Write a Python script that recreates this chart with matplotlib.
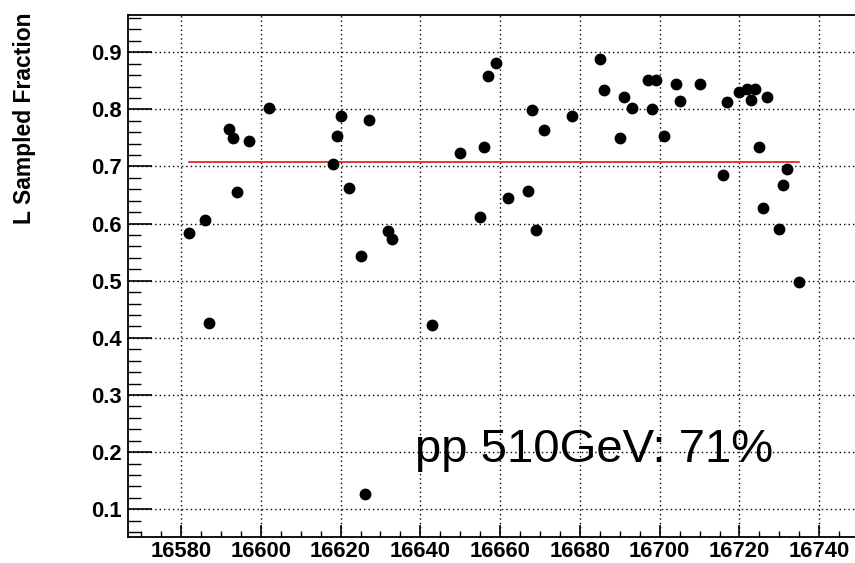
import matplotlib.pyplot as plt
from matplotlib.ticker import MultipleLocator

# fill number and sampled luminosity fraction
fills = [16582, 16586, 16587, 16592, 16593, 16594, 16597, 16602, 16618, 16619,
         16620, 16622, 16625, 16626, 16627, 16632, 16633, 16643, 16650, 16655,
         16656, 16657, 16659, 16662, 16667, 16668, 16669, 16671, 16678, 16685,
         16686, 16690, 16691, 16693, 16697, 16698, 16699, 16701, 16704, 16705,
         16710, 16716, 16717, 16720, 16722, 16723, 16724, 16725, 16726, 16727,
         16730, 16731, 16732, 16735]
frac = [0.583, 0.606, 0.426, 0.766, 0.750, 0.655, 0.744, 0.803, 0.705, 0.754,
        0.789, 0.663, 0.544, 0.127, 0.782, 0.587, 0.573, 0.422, 0.723, 0.611,
        0.734, 0.858, 0.881, 0.644, 0.657, 0.799, 0.589, 0.764, 0.788, 0.889,
        0.834, 0.749, 0.822, 0.803, 0.852, 0.801, 0.852, 0.754, 0.845, 0.815,
        0.844, 0.685, 0.813, 0.831, 0.836, 0.816, 0.836, 0.734, 0.627, 0.822,
        0.590, 0.667, 0.696, 0.497]
fit = 0.707  # constant fit

fnt = 'Liberation Sans'

fig = plt.figure(figsize=(8.55, 5.63), dpi=100)
# right edge of the frame runs past the canvas
ax = fig.add_axes([128 / 855, 25.7 / 563, 732.3 / 855, 522.3 / 563])

# axis range: data span plus 10% on each side
xmin, xmax = min(fills), max(fills)
ymin, ymax = min(frac), max(frac)
dx = 0.1 * (xmax - xmin)
dy = 0.1 * (ymax - ymin)
ax.set_xlim(xmin - dx, xmax + dx)
ax.set_ylim(ymin - dy, ymax + dy)

ax.xaxis.set_major_locator(MultipleLocator(20))
ax.xaxis.set_minor_locator(MultipleLocator(5))
ax.yaxis.set_major_locator(MultipleLocator(0.1))
ax.yaxis.set_minor_locator(MultipleLocator(0.02))
ax.grid(True, which='major', color='black', linestyle=(0, (1, 2.2)), linewidth=1.0)
ax.set_axisbelow(True)

ax.tick_params(axis='both', which='both', direction='in', top=False, right=False,
               color='black', labelsize=15.8)
ax.tick_params(axis='y', which='major', length=17, width=1.2, pad=4.5)
ax.tick_params(axis='y', which='minor', length=9, width=1.0)
ax.tick_params(axis='x', which='major', length=8.5, width=1.2, pad=2.5)
ax.tick_params(axis='x', which='minor', length=4.3, width=1.0)
for lab in ax.get_xticklabels() + ax.get_yticklabels():
    lab.set_fontfamily(fnt)
    lab.set_fontweight('bold')

for s in ['left', 'bottom', 'top']:
    ax.spines[s].set_linewidth(1.3)
ax.spines['right'].set_visible(False)

ax.plot([xmin, xmax], [fit, fit], color='#dd0000', linewidth=1.1, zorder=2)
ax.plot(fills, frac, 'o', color='black', markersize=7.5, zorder=3)

ax.text(16638.7, 0.182, f'pp 510GeV: {round(fit * 100)}%', fontsize=34,
        family=fnt, va='baseline', ha='left', zorder=4)

fig.text(24 / 855, 1 - 13 / 563, 'L Sampled Fraction', rotation=90, ha='center',
         va='top', fontsize=16.5, family=fnt, fontweight='bold')

fig.savefig('out.png', dpi=100)
